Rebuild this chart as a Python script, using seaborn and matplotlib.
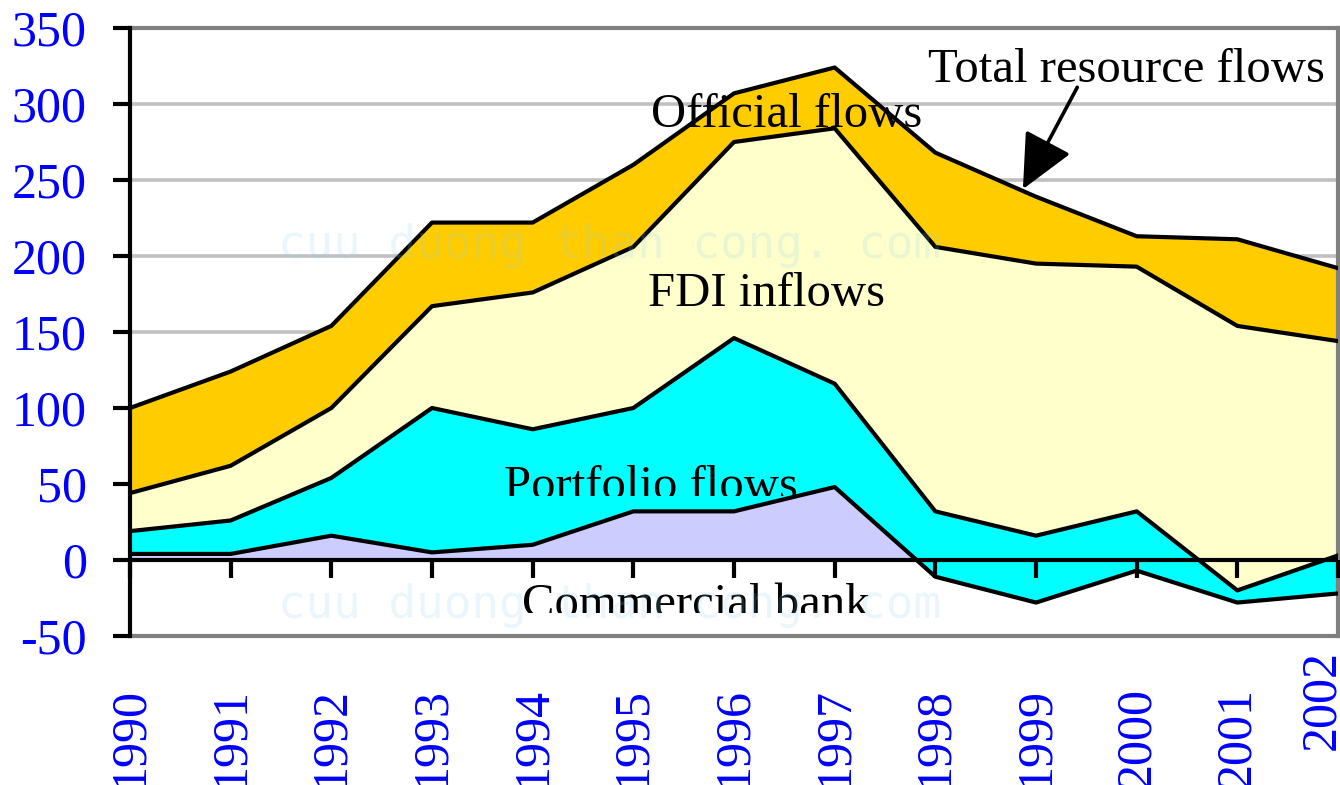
import numpy as np
import pandas as pd
import matplotlib
matplotlib.use("Agg")
import matplotlib.pyplot as plt
import matplotlib.transforms as mtransforms
import seaborn as sns

# flows by component (stacked bottom to top)
years = np.arange(1990, 2003)
commercial_bank = [4, 4, 16, 5, 10, 32, 32, 48, -11, -28, -7, -28, -22]
portfolio_flows = [15, 22, 38, 95, 76, 68, 114, 68, 43, 44, 39, 8, 25]
fdi_inflows = [25, 36, 46, 67, 90, 106, 129, 168, 174, 179, 161, 174, 141]
official_flows = [56, 62, 54, 55, 46, 54, 32, 40, 62, 44, 20, 57, 48]

y_ticks = [-50, 0, 50, 100, 150, 200, 250, 300, 350]

comm = np.array(commercial_bank, dtype=float)
port = comm + np.array(portfolio_flows)
fdi = port + np.array(fdi_inflows)
total = fdi + np.array(official_flows)

df = pd.DataFrame({
    "year": np.tile(years, 4),
    "value": np.concatenate([comm, port, fdi, total]),
    "series": np.repeat(["Commercial bank", "Portfolio flows", "FDI inflows", "Total"], len(years)),
})

sns.set_theme(style="white")
plt.rcParams["font.family"] = ["Liberation Serif", "DejaVu Serif"]

fig = plt.figure(figsize=(13.4, 7.85), dpi=100)
ax = fig.add_axes([130 / 1340, 149 / 785, 1208 / 1340, 608 / 785])

# areas
ax.fill_between(years, 0, comm, where=comm >= 0, interpolate=True, color="#CCCCFF", lw=0, zorder=2)
ax.fill_between(years, comm, port, color="#00FFFF", lw=0, zorder=2)
ax.fill_between(years, port, fdi, color="#FFFFCC", lw=0, zorder=2)
ax.fill_between(years, fdi, total, color="#FFCC00", lw=0, zorder=2)

sns.lineplot(data=df, x="year", y="value", hue="series", units="series", estimator=None,
             palette=["black"] * 4, lw=3, legend=False, ax=ax, zorder=3)

ax.axhline(0, color="black", lw=3, zorder=4)

ax.set_xlim(1990, 2002)
ax.set_ylim(-50, 350)
ax.set_xlabel("")
ax.set_ylabel("")

ax.set_yticks(y_ticks)
ax.set_yticklabels([str(t) for t in y_ticks])
ax.yaxis.grid(True, color="#C0C0C0", lw=2.6)
ax.set_axisbelow(True)
ax.tick_params(axis="y", left=True, direction="out", length=12, width=3, color="black",
               labelsize=36, labelcolor="blue", pad=19)

ax.set_xticks(years)
ax.set_xticklabels([str(y) for y in years], rotation=90, va="top")
ax.tick_params(axis="x", bottom=True, length=0, labelsize=36, labelcolor="blue", pad=37)
last = ax.get_xticklabels()[-1]
last.set_transform(last.get_transform() + mtransforms.ScaledTranslation(-0.16, 0.37, fig.dpi_scale_trans))

for side in ["top", "right", "bottom"]:
    ax.spines[side].set_color("#808080")
    ax.spines[side].set_linewidth(3)
ax.spines["left"].set_color("black")
ax.spines["left"].set_linewidth(3)
ax.spines["left"].set_zorder(5)

# tick marks hanging from the zero line
sec = ax.secondary_xaxis(50 / 400)
sec.set_xticks(years)
sec.set_xticklabels([""] * len(years))
sec.tick_params(axis="x", direction="out", length=13, width=3, color="black")
sec.spines["bottom"].set_visible(False)
sec.set_zorder(6)

# labels
ax.text(1999.9, 314.6, "Total resource flows", ha="center", va="baseline", fontsize=35, color="black", zorder=7)
ax.annotate("", xy=(1998.87, 244), xytext=(1999.41, 311),
            arrowprops=dict(arrowstyle="-|>,head_length=1.7,head_width=0.8", mutation_scale=20,
                            lw=2.6, color="black", shrinkA=0, shrinkB=0), zorder=7)
ax.text(1996.52, 285, "Official flows", ha="center", va="baseline", fontsize=35, color="black", zorder=7)
ax.text(1996.32, 167, "FDI inflows", ha="center", va="baseline", fontsize=35, color="black", zorder=7)

t1 = ax.text(1995.17, 40, "Portfolio flows", ha="center", va="baseline", fontsize=35, color="black", zorder=7)
t1.set_clip_box(mtransforms.TransformedBbox(mtransforms.Bbox([[0, 289 / 785], [1, 1]]), fig.transFigure))
t1.set_clip_on(True)
t2 = ax.text(1995.62, -37.4, "Commercial bank", ha="center", va="baseline", fontsize=35, color="black", zorder=7)
t2.set_clip_box(mtransforms.TransformedBbox(mtransforms.Bbox([[0, 172 / 785], [1, 1]]), fig.transFigure))
t2.set_clip_on(True)

# faint watermark
for wy in [540 / 785, 180 / 785]:
    fig.text(278 / 1340, wy, "cuu duong than cong. com", family="DejaVu Sans Mono", fontsize=33,
             color=(0.55, 0.82, 0.93), alpha=0.18, ha="left", va="center", zorder=10)

fig.savefig("out.png", dpi=100)
